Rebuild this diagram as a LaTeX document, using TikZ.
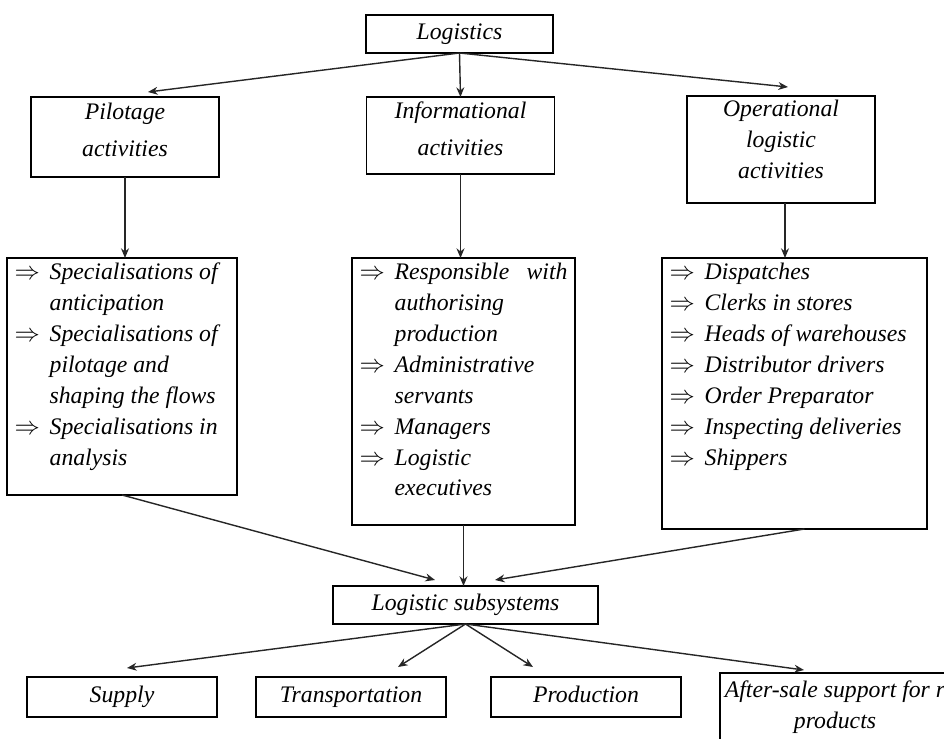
\documentclass[tikz,border=0pt]{standalone}
\usepackage{fontspec}
\setmainfont{Liberation Serif}
\usetikzlibrary{arrows.meta}

% one entry of a list box: arrow, then text with hanging indent
\newcommand{\itm}[1]{\par\hangindent=20pt\hangafter=1\noindent\makebox[20pt][l]{$\Rightarrow$}#1}

\begin{document}
\begin{tikzpicture}[x=0.02cm,y=-0.02cm,inner sep=0pt,outer sep=0pt,
>={Stealth[length=5.5pt,width=4.5pt]},
every node/.style={font=\fontsize{13.5}{17.6}\selectfont\itshape},
topbox/.style={draw,rectangle,line width=1pt,align=center,minimum width=3.76cm},
listbox/.style={draw,rectangle,line width=1pt,inner xsep=0.15cm,inner ysep=0.1cm},
subbox/.style={draw,rectangle,line width=1pt,align=center,minimum width=3.8cm,minimum height=0.8cm,text height=9.5pt,text depth=3pt},
link/.style={->,line width=0.8pt,draw=black!85}]

\useasboundingbox (0,0) rectangle (944,738);
\clip (0,0) rectangle (944,738);

% top level
\draw (459.5,34) node[topbox,minimum width=3.74cm,minimum height=0.76cm] (logistics) {Logistics};
\draw (125,137) node[topbox,minimum height=1.6cm,text depth=8.5pt] (pilot) {Pilotage\\[3.4pt]activities};
\draw (460.5,135.5) node[topbox,minimum height=1.54cm,text depth=8pt] (info) {Informational\\[3.4pt]activities};
\draw (781,149.5) node[topbox,minimum height=2.14cm,text depth=12pt] (oper) {Operational\\logistic\\activities};

% lists of specialisations
\draw (122,376.5) node[listbox] (list1) {\parbox[c][4.54cm][t]{4.3cm}{%
\itm{Specialisations of\newline anticipation}%
\itm{Specialisations of\newline pilotage and\newline shaping the flows}%
\itm{Specialisations in\newline analysis}}};
\draw (463.5,391.5) node[listbox] (list2) {\parbox[c][5.14cm][t]{4.16cm}{%
\itm{Responsible\hfill with\newline authorising\newline production}%
\itm{Administrative\newline servants}%
\itm{Managers}%
\itm{Logistic\newline executives}}};
\draw (794.5,393.5) node[listbox] (list3) {\parbox[c][5.22cm][t]{5cm}{%
\itm{Dispatches}%
\itm{Clerks in stores}%
\itm{Heads of warehouses}%
\itm{Distributor drivers}%
\itm{Order Preparator}%
\itm{Inspecting deliveries}%
\itm{Shippers}}};

% subsystems
\draw (465.5,605) node[subbox,minimum width=5.3cm,minimum height=0.76cm] (sub) {Logistic subsystems};
\draw (122,697) node[subbox] (supply) {Supply};
\draw (351,697) node[subbox] (trans) {Transportation};
\draw (586,697) node[subbox] (prod) {Production};
\draw (835,707) node[draw,rectangle,line width=1pt,align=center,minimum width=4.6cm,minimum height=1.36cm] (after) {After-sale support for r\\products};

\draw[link] (logistics.south) -- ([xshift=0.46cm,yshift=0.1cm]pilot.north);
\draw[link] (logistics.south) -- (info.north);
\draw[link] (logistics.south) -- ([xshift=0.14cm,yshift=0.18cm]oper.north);

\draw[link] (pilot.south) -- (pilot.south |- list1.north);
\draw[link] (info.south) -- (info.south |- list2.north);
\draw[link] ([xshift=0.08cm]oper.south) -- ([xshift=0.08cm]oper.south |- list3.north);

\draw[link] (list1.south) -- ([xshift=-0.61cm,yshift=0.12cm]sub.north);
\draw[link] (list2.south) -- (list2.south |- sub.north);
\draw[link] ([xshift=0.2cm]list3.south) -- ([xshift=0.59cm,yshift=0.12cm]sub.north);

\draw[link] (sub.south) -- ([xshift=0.1cm,yshift=0.18cm]supply.north);
\draw[link] (sub.south) -- ([xshift=0.94cm,yshift=0.2cm]trans.north);
\draw[link] (sub.south) -- ([xshift=-1.06cm,yshift=0.2cm]prod.north);
\draw[link] (sub.south) -- ([xshift=-0.62cm,yshift=0.06cm]after.north);
\end{tikzpicture}
\end{document}
